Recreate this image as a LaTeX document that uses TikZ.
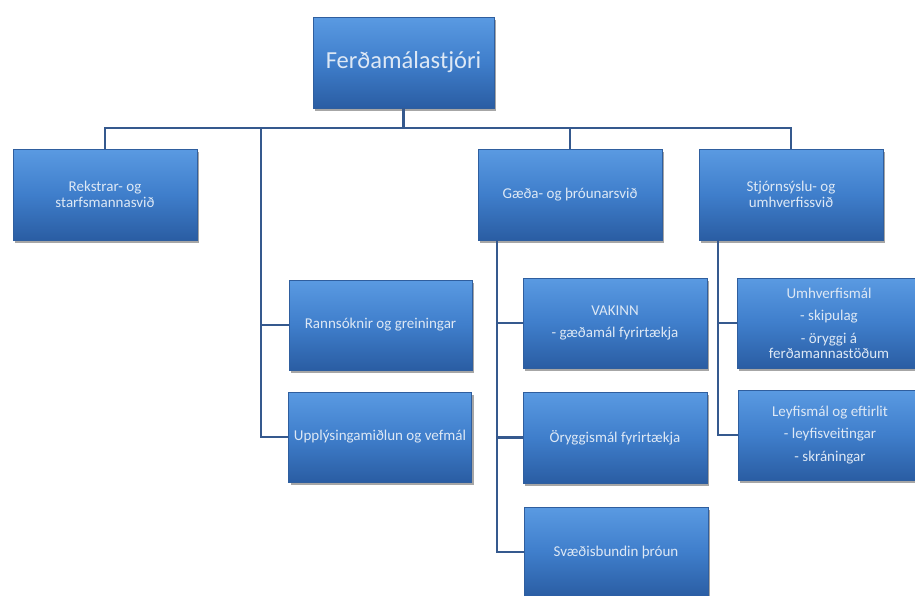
\documentclass[tikz,border=0pt]{standalone}
\usepackage{fontspec}
\setmainfont{Carlito}
\usetikzlibrary{shadows}
\definecolor{boxtop}{HTML}{5A9AE2}
\definecolor{boxmid}{HTML}{3F7ECB}
\definecolor{boxbot}{HTML}{2A5DA3}
\definecolor{boxedge}{HTML}{2F5E9E}
\definecolor{linec}{HTML}{35598E}
\definecolor{txt}{HTML}{DDE8F5}
\tikzset{
  orgbox/.style={rectangle, draw=boxedge, line width=0.6pt,
    top color=boxtop, bottom color=boxbot, middle color=boxmid,
    minimum width=184pt, minimum height=91pt, inner sep=1pt,
    text=txt, align=center, font=\fontsize{15}{16.5}\selectfont,
    drop shadow={shadow xshift=2pt, shadow yshift=-3pt, opacity=0.35, fill=black}},
  conn/.style={draw=linec, line width=2.8pt, line join=miter},
}
\begin{document}
\begin{tikzpicture}[x=1pt,y=-1pt]
\useasboundingbox (0,0) rectangle (915,595);
\clip (0,0) rectangle (915,595);
\fill[white] (0,0) rectangle (915,595);

\coordinate (bus) at (0,128);
\coordinate (lv) at (261,0);
\coordinate (gv) at (497,0);
\coordinate (sv) at (718,0);

\node[orgbox, minimum width=181pt] (top) at (403.5,62.5) {\fontsize{24.5}{28}\selectfont Ferðamálastjóri};
\node[orgbox] (rek) at (105,194.5) {Rekstrar- og\\starfsmannasvið};
\node[orgbox] (gaeda) at (570,194.5) {Gæða- og þróunarsvið};
\node[orgbox] (stjorn) at (791,194.5) {Stjórnsýslu- og\\umhverfissvið};
\node[orgbox, minimum width=183pt, minimum height=90pt] (rann) at (380.5,325) {Rannsóknir og greiningar};
\node[orgbox, minimum width=183pt, minimum height=90pt] (upp) at (380,437) {Upplýsingamiðlun og vefmál};
\node[orgbox, minimum height=90pt] (vak) at (615,323) {VAKINN\\[5pt]- gæðamál fyrirtækja};
\node[orgbox] (ory) at (615,437.5) {Öryggismál fyrirtækja};
\node[orgbox, minimum height=90pt] (svae) at (616,552) {Svæðisbundin þróun};
\node[orgbox, minimum height=90pt] (umh) at (829,323) {Umhverfismál\\[6pt]- skipulag\\[6pt]- öryggi á\\[-1.5pt]ferðamannastöðum};
\node[orgbox, minimum height=90pt] (ley) at (830,435) {Leyfismál og eftirlit\\[6pt]- leyfisveitingar\\[6pt]- skráningar};

\draw[conn] (top.south) -- (top.south |- bus);
\draw[conn] (rek.north) -- (rek.north |- bus) -- (stjorn.north |- bus) -- (stjorn.north);
\draw[conn] (gaeda.north |- bus) -- (gaeda.north);
\draw[conn] (lv |- bus) |- (upp.west);
\draw[conn] (lv |- rann.west) -- (rann.west);
\draw[conn] (gaeda.south -| gv) |- (svae.west);
\draw[conn] (gv |- vak.west) -- (vak.west);
\draw[conn] (gv |- ory.west) -- (ory.west);
\draw[conn] (stjorn.south -| sv) |- (ley.west);
\draw[conn] (sv |- umh.west) -- (umh.west);
\end{tikzpicture}
\end{document}
